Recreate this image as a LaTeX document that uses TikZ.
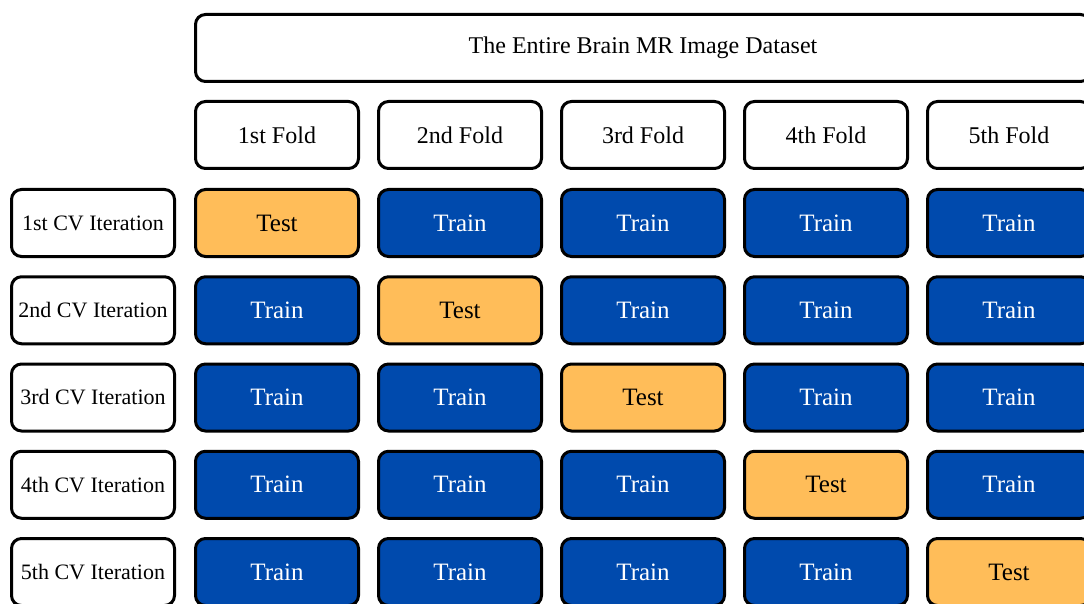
\documentclass[tikz,border=0pt]{standalone}
\usepackage{fontspec}
\setmainfont{Liberation Serif}
\definecolor{trainblue}{HTML}{004AAD}
\definecolor{testorange}{HTML}{FFBD59}
\tikzset{
  cell/.style={draw=black, line width=3pt, rounded corners=10pt,
    minimum width=163pt, minimum height=67pt, inner sep=0pt,
    font=\fontsize{25}{29}\selectfont},
  plain/.style={cell, fill=white, text=black, font=\fontsize{24}{28}\selectfont},
  itembox/.style={plain, font=\fontsize{22}{26}\selectfont},
  trainbox/.style={cell, fill=trainblue, text=white},
  testbox/.style={cell, fill=testorange, text=black},
}
\begin{document}
\begin{tikzpicture}[x=1pt,y=-1pt]
  \useasboundingbox (0,0) rectangle (1084,604);
  \clip (0,0) rectangle (1084,604);
  % dataset header
  \node[plain, minimum width=895pt] (data) at (643,48) {The Entire Brain MR Image Dataset};
  % fold headers
  \foreach \i/\t in {0/1st,1/2nd,2/3rd,3/4th,4/5th} {
    \node[plain] (fold\i) at ({277+183*\i},135) {\t\ Fold};
  }
  % iteration rows
  \foreach \r/\t in {0/1st,1/2nd,2/3rd,3/4th,4/5th} {
    \node[itembox] (iter\r) at (93,{223+87.25*\r}) {\t\ CV Iteration};
    \foreach \c in {0,...,4} {
      \ifnum\c=\r
        \node[testbox] (cell\r\c) at ({277+183*\c},{223+87.25*\r}) {Test};
      \else
        \node[trainbox] (cell\r\c) at ({277+183*\c},{223+87.25*\r}) {Train};
      \fi
    }
  }
\end{tikzpicture}
\end{document}
